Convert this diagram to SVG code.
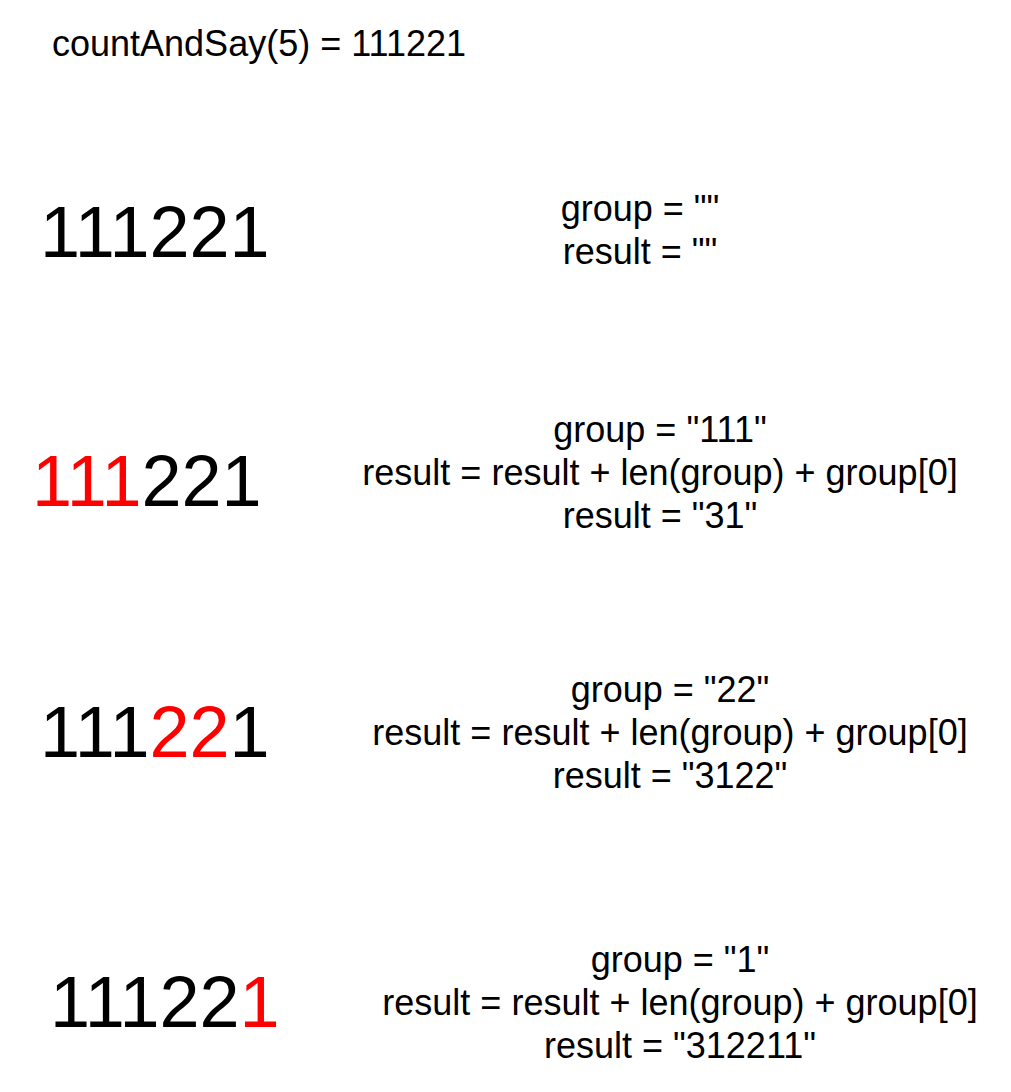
<svg xmlns="http://www.w3.org/2000/svg" width="1011" height="1092" viewBox="0 0 1011 1092">
<style>
text{font-family:"Liberation Sans",Arial,sans-serif;fill:#000}
.t{font-size:36px}
.big{font-size:72px}
.c{font-size:36px;text-anchor:middle}
.r{fill:#ff0000}
</style>
<rect width="1011" height="1092" fill="#ffffff"/>
<g id="title"><text class="t" x="52" y="56">countAndSay(5) = 111221</text></g>
<g id="step0">
<text class="big" x="40" y="257">111221</text>
<text class="c" x="640" y="221">group = ""</text>
<text class="c" x="640" y="264">result = ""</text>
</g>
<g id="step1">
<text class="big" x="32" y="506"><tspan class="r">111</tspan>221</text>
<text class="c" x="660" y="442">group = "111"</text>
<text class="c" x="660" y="485">result = result + len(group) + group[0]</text>
<text class="c" x="660" y="528">result = "31"</text>
</g>
<g id="step2">
<text class="big" x="40" y="757">111<tspan class="r">22</tspan>1</text>
<text class="c" x="670" y="702">group = "22"</text>
<text class="c" x="670" y="745">result = result + len(group) + group[0]</text>
<text class="c" x="670" y="788">result = "3122"</text>
</g>
<g id="step3">
<text class="big" x="50" y="1027">11122<tspan class="r">1</tspan></text>
<text class="c" x="680" y="972">group = "1"</text>
<text class="c" x="680" y="1015">result = result + len(group) + group[0]</text>
<text class="c" x="680" y="1058">result = "312211"</text>
</g>
<g id="connectors"></g>
</svg>
